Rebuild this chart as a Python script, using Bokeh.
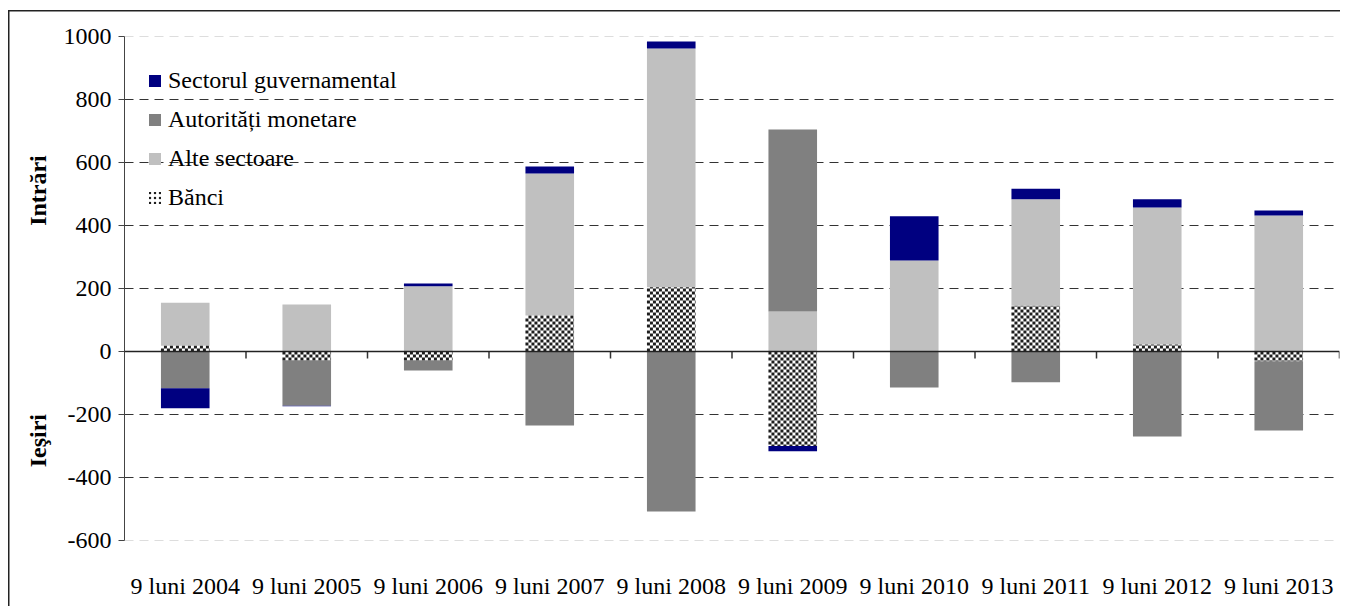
import numpy as np
from bokeh.plotting import figure
from bokeh.layouts import row
from bokeh.models import (Range1d, FixedTicker, Span, Legend, LegendItem)
from bokeh.core.properties import value
from bokeh.embed import file_html
from bokeh.resources import INLINE

# ---------------- data ----------------
categories = ["9 luni 2004", "9 luni 2005", "9 luni 2006", "9 luni 2007", "9 luni 2008",
              "9 luni 2009", "9 luni 2010", "9 luni 2011", "9 luni 2012", "9 luni 2013"]
banci = [18, -28, -28, 114, 204, -300, 0, 145, 22, -31]
alte_sectoare = [137, 149, 207, 451, 758, 127, 289, 338, 435, 432]
autoritati_monetare = [-117, -144, -32, -235, -508, 578, -114, -98, -270, -220]
sectorul_guvernamental = [-63, -2, 9, 22, 22, -17, 140, 34, 26, 16]

series_names = ["Bănci", "Alte sectoare", "Autorități monetare", "Sectorul guvernamental"]
series_values = [banci, alte_sectoare, autoritati_monetare, sectorul_guvernamental]
series_colors = ["#FFFFFF", "#C0C0C0", "#808080", "#000080"]
checker_dark = "#1E1E1E"

y_ticks = [-600, -400, -200, 0, 200, 400, 600, 800, 1000]
y_tick_labels = ["-600", "-400", "-200", "0", "200", "400", "600", "800", "1000"]
side_labels = ["Intrări", "Ieşiri"]
side_label_y = [511, -283]

FONT = "Liberation Serif"
FS = "24px"

# ------------- stacking (positives up, negatives down) -------------
n = len(categories)
pos_base = np.zeros(n)
neg_base = np.zeros(n)
stacks = []
for vals in series_values:
    v = np.array(vals, dtype=float)
    bottom = np.where(v >= 0, pos_base, neg_base)
    top = bottom + v
    pos_base = np.where(v >= 0, top, pos_base)
    neg_base = np.where(v < 0, top, neg_base)
    stacks.append((bottom, top))

# ------------- layout constants -------------
TOTAL_W, H = 1340, 606
SIDE_W = 60
TOP, BOTTOM, LEFT, RIGHT = 36, 66, 123 - SIDE_W, 1
W = TOTAL_W - SIDE_W
YMIN, YMAX = -600, 1000
BAR_W = 0.4
yr = Range1d(YMIN, YMAX)

# ------------- side panel with the vertical labels -------------
side = figure(width=SIDE_W, height=H, output_backend="svg", toolbar_location=None,
              x_range=Range1d(0, SIDE_W), y_range=yr,
              min_border_left=0, min_border_right=0, min_border_top=TOP,
              min_border_bottom=BOTTOM)
side.axis.visible = False
side.grid.visible = False
side.outline_line_color = None
side.background_fill_alpha = 0
side.border_fill_alpha = 0
side.styles = {"background": "linear-gradient(#222,#222) 8px 10px / 1.5px calc(100% - 10px) no-repeat, "
                             "linear-gradient(#222,#222) 8px 10px / calc(100% - 8px) 1.5px no-repeat, white"}
side.text(x=[37, 37], y=side_label_y, text=side_labels, angle=np.pi / 2,
          text_align="center", text_baseline="middle",
          text_font=value(FONT), text_font_size=FS, text_font_style="bold", text_color="black")

# ------------- main figure -------------
p = figure(width=W, height=H, output_backend="svg", toolbar_location=None,
           x_range=Range1d(-0.5, n - 0.5), y_range=yr,
           min_border_left=LEFT, min_border_right=RIGHT, min_border_top=TOP,
           min_border_bottom=BOTTOM)
p.styles = {"background": "linear-gradient(#222,#222) 0px 10px / 100% 1.5px no-repeat, white"}
p.outline_line_color = None
p.background_fill_color = "white"
p.border_fill_alpha = 0

frame_w = W - LEFT - RIGHT
frame_h = H - TOP - BOTTOM
px_x = frame_w / float(n)            # pixels per x unit
px_y = frame_h / float(YMAX - YMIN)  # pixels per y unit

xs = np.arange(n)
renderers = {}
for name, (bottom, top), color in zip(series_names, stacks, series_colors):
    r = p.vbar(x=xs, bottom=bottom, top=top, width=BAR_W, fill_color=color, line_color=None)
    renderers[name] = r

# checkerboard texture for "Bănci" (3 px squares, built from the bar extents)
sq = 3.0
sx, sy = sq / px_x, sq / px_y
bb, bt = stacks[0]
L, R, B, T = [], [], [], []
for i in range(n):
    h = bt[i] - bb[i]
    if abs(h) < 1e-9:
        continue
    sgn = 1.0 if h > 0 else -1.0
    x0 = xs[i] - BAR_W / 2
    x1 = xs[i] + BAR_W / 2
    ncol = int(np.ceil((x1 - x0) / sx))
    nrow = int(np.ceil(abs(h) / sy))
    for rr in range(nrow):
        ya0 = bb[i] + sgn * rr * sy
        ya1 = bb[i] + sgn * min((rr + 1) * sy, abs(h))
        for cc in range(ncol):
            if (rr + cc) % 2 == 0:
                L.append(x0 + cc * sx)
                R.append(min(x0 + (cc + 1) * sx, x1))
                B.append(min(ya0, ya1))
                T.append(max(ya0, ya1))
p.quad(left=L, right=R, bottom=B, top=T, fill_color=checker_dark, line_color=None)

# legend swatch for "Bănci" (hatched, off-screen bar)
dummy = p.vbar(x=[-5], bottom=[0], top=[1], width=BAR_W, fill_color="white", line_color=None,
               hatch_pattern="dot", hatch_color=checker_dark, hatch_scale=5, hatch_weight=1)

# grid
p.xgrid.visible = False
p.ygrid.ticker = FixedTicker(ticks=[t for t in y_ticks if t not in (0, YMIN, YMAX)])
p.ygrid.grid_line_color = "#333333"
p.ygrid.grid_line_dash = "9 6"
p.ygrid.grid_line_width = 1
for loc in (YMIN, YMAX):
    p.add_layout(Span(location=loc, dimension="width", line_color="#BBBBBB",
                      line_dash="9 6", line_width=1, level="underlay"))

# zero line + separator ticks
p.add_layout(Span(location=0, dimension="width", line_color="#222222", line_width=1.5))
tick_len = 7 / px_y
sep = xs + 0.5
p.segment(x0=sep, y0=np.zeros(n), x1=sep, y1=np.full(n, -tick_len),
          line_color="#333333", line_width=1.5)

# axes
xa = p.xaxis[0]
xa.ticker = FixedTicker(ticks=list(xs))
xa.major_label_overrides = {int(i): c for i, c in zip(xs, categories)}
xa.axis_line_color = None
xa.major_tick_line_color = None
xa.minor_tick_line_color = None
xa.major_label_standoff = 26
xa.major_label_text_font = FONT
xa.major_label_text_font_size = FS
xa.major_label_text_color = "black"

ya = p.yaxis[0]
ya.ticker = FixedTicker(ticks=y_ticks)
ya.major_label_overrides = {t: s for t, s in zip(y_ticks, y_tick_labels)}
ya.axis_line_color = "#444444"
ya.major_tick_line_color = "#444444"
ya.major_tick_out = 6
ya.major_tick_in = 0
ya.minor_tick_line_color = None
ya.major_label_standoff = 7
ya.major_label_text_font = FONT
ya.major_label_text_font_size = FS
ya.major_label_text_color = "black"

# legend
PAD, LH, SP = 6, 30, 9
order = ["Sectorul guvernamental", "Autorități monetare", "Alte sectoare", "Bănci"]
items = []
for name in order:
    rend = dummy if name == "Bănci" else renderers[name]
    items.append(LegendItem(label=name, renderers=[rend]))
leg_h = 2 * PAD + len(order) * LH + (len(order) - 1) * SP
legend = Legend(items=items, location=(23, frame_h - 17 - leg_h), margin=0, padding=PAD,
                glyph_width=15, glyph_height=15, label_standoff=6,
                label_height=LH, spacing=SP,
                label_text_font=FONT, label_text_font_size=FS, label_text_color="black",
                background_fill_alpha=0, border_line_color=None)
p.add_layout(legend)

layout = row(side, p, spacing=0)
open("out.html", "w").write(file_html(layout, INLINE))
